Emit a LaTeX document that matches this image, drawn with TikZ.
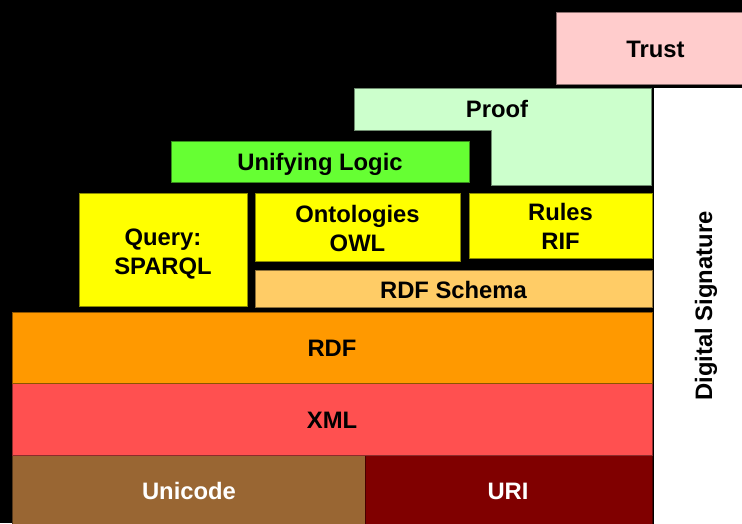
\documentclass[tikz,border=0pt]{standalone}
\usepackage{fontspec}
\setmainfont{Liberation Sans}
\definecolor{trustc}{HTML}{FFCCCC}
\definecolor{proofc}{HTML}{CCFFCC}
\definecolor{logicc}{HTML}{66FF33}
\definecolor{yellowc}{HTML}{FFFF00}
\definecolor{schemac}{HTML}{FFCC66}
\definecolor{rdfc}{HTML}{FF9900}
\definecolor{xmlc}{HTML}{FF5050}
\definecolor{unicodec}{HTML}{996633}
\definecolor{uric}{HTML}{800000}
\begin{document}
\begin{tikzpicture}[x=1pt,y=-1pt,
  layer/.style={rectangle, anchor=north west, inner sep=0pt, outer sep=0pt,
    draw=#1!55!black, fill=#1, line width=0.7pt},
  label/.style={inner sep=0pt, align=center,
    font=\fontsize{23.8}{28.5}\selectfont\bfseries}]
  % page and background
  \useasboundingbox[fill=black] (0,0) rectangle (742,523);

  % digital signature column on the right
  \node[layer=white, draw=black, minimum width=110pt, minimum height=450pt] (sig) at (653,87) {};
  \node[label, rotate=90] (sigtext) at (706,306) {Digital Signature};

  % bottom layers
  \node[layer=unicodec, minimum width=354pt, minimum height=80pt] (unicode) at (12,455) {};
  \node[label, text=white] (unicodetext) at (189,491) {Unicode};
  \node[layer=uric, minimum width=287pt, minimum height=80pt] (uri) at (365,455) {};
  \node[label, text=white] (uritext) at (508,491) {URI};

  \node[layer=xmlc, minimum width=640pt, minimum height=72pt] (xml) at (12,383) {};
  \node[label] (xmltext) at (332,420) {XML};
  \node[layer=rdfc, minimum width=640pt, minimum height=71pt] (rdf) at (12,312) {};
  \node[label] (rdftext) at (332,348.5) {RDF};

  % middle layers
  \node[layer=schemac, minimum width=397pt, minimum height=37pt] (schema) at (255,270) {};
  \node[label] (schematext) at (453.5,289.5) {RDF Schema};
  \node[layer=yellowc, minimum width=168pt, minimum height=113pt] (query) at (79,193) {};
  \node[label] (querytext) at (163,254) {Query:\\SPARQL};
  \node[layer=yellowc, minimum width=205pt, minimum height=68pt] (owl) at (255,193) {};
  \node[label] (owltext) at (357.5,228.5) {Ontologies\\OWL};
  \node[layer=yellowc, minimum width=183pt, minimum height=65pt] (rif) at (469,193) {};
  \node[label] (riftext) at (560.5,226.5) {Rules\\RIF};

  % upper layers
  \node[layer=logicc, minimum width=298pt, minimum height=41pt] (logic) at (171,141) {};
  \node[label] (logictext) at (320,164.5) {Unifying Logic};
  \path[draw=proofc!55!black, fill=proofc, line width=0.7pt]
    (354,88) -- (651,88) -- (651,185) -- (491,185) -- (491,130) -- (354,130) -- cycle;
  \node[label] (proof) at (497,108.5) {Proof};
  \node[layer=trustc, minimum width=200pt, minimum height=72pt] (trust) at (556,12) {};
  \node[label] (trusttext) at (655.5,49) {Trust};
\end{tikzpicture}
\end{document}
